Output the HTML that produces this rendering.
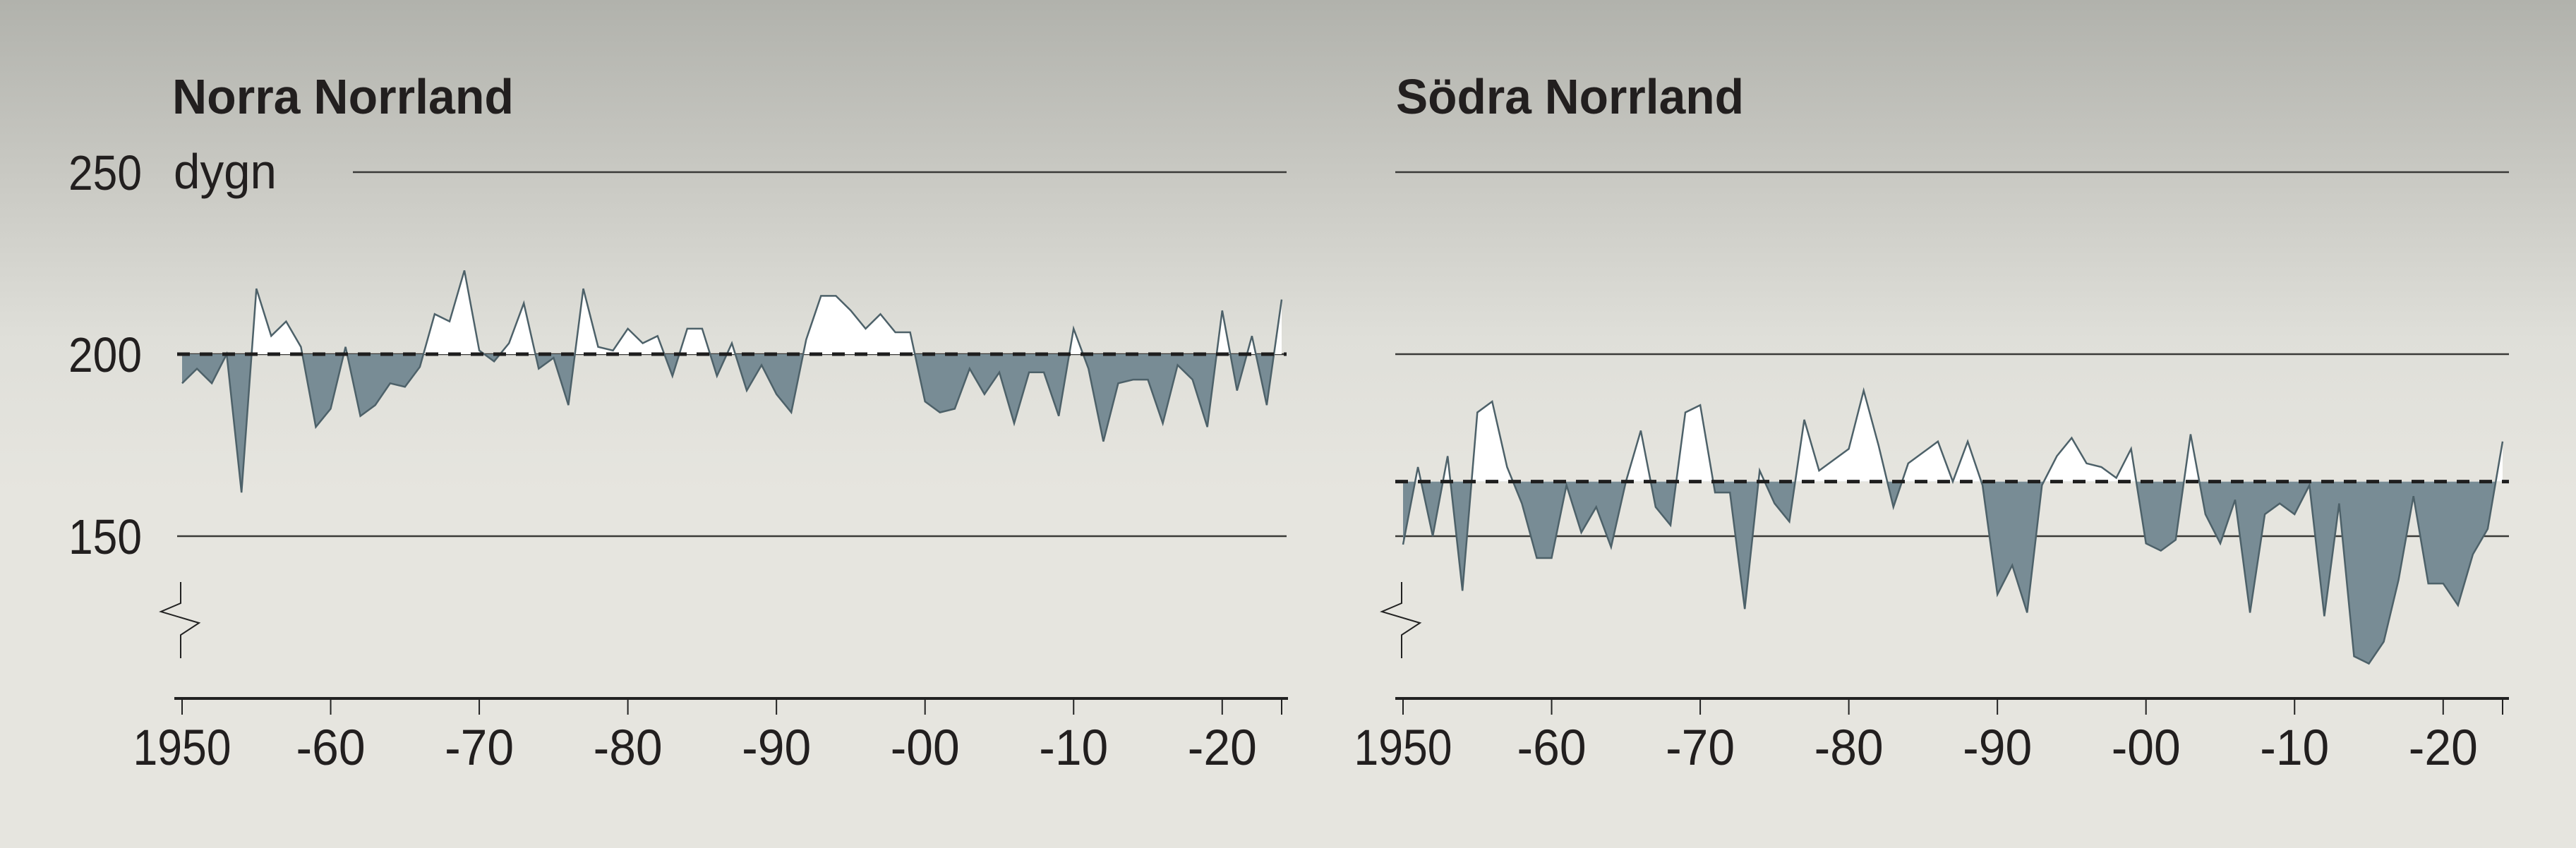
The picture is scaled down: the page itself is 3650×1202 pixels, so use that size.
<!DOCTYPE html>
<html><head><meta charset="utf-8"><style>
html,body{margin:0;padding:0;}
body{width:3650px;height:1202px;overflow:hidden;background:linear-gradient(#b1b2ac 0px,#c9c9c3 250px,#dfdfd9 480px,#e6e5df 700px,#e6e5df 1202px);}
svg{display:block;font-family:"Liberation Sans",sans-serif;}
</style></head><body>
<svg id="chart" width="3650" height="1202" viewBox="0 0 3650 1202" xmlns="http://www.w3.org/2000/svg"></svg>
<script>
const years = []; for (let y = 1950; y <= 2024; y++) years.push(y);
const norraValues = [192,196,192,200,162,218,205,209,202,180,185,202,183,186,192,191,196.5,211,209,223,201,198,203,214,196,199,186,218,202,201,207,203,205,194,207,207,194,203,190,197,189,184,204,216,216,212,207,211,206,206,187,184,185,196,189,195,181,195,195,183,207,196,176,192,193,193,181,197,193,180,212,190,205,186,215];
const sodraValues = [147.7,169,150,172,135,184,187,169,159,144,144,164,151,158,147,165,179,158,153,184,186,162,162,130,168,159,154,182,168,171,174,190,175,158,170,173,176,165,176,164,134,142,129,164,172,177,170,169,166,174,148,146,149,178,156,148,160,129,156,159,156,164,128,159,117,115,121,138,161,137,137,131,145,152,176];
const norraMean = 200;
const sodraMean = 165;
const yTickValues = [150,200,250];
const xTickYears = [1950,1960,1970,1980,1990,2000,2010,2020,2024];
const xTickLabels = ["1950","-60","-70","-80","-90","-00","-10","-20",""];

const NS = "http://www.w3.org/2000/svg";
const svg = document.getElementById('chart');
function el(tag, attrs, parent) {
  const e = document.createElementNS(NS, tag);
  for (const k in attrs) e.setAttribute(k, attrs[k]);
  (parent || svg).appendChild(e);
  return e;
}
function yScale(v) { return 502 + (200 - v) * (258 / 50); }

function drawPanel(id, title, values, mean, x0, x1, gridStart, gridEnd, axisStart, axisEnd, showYLabels, titleX, titleW) {
  const g = el('g', {});
  
  
  const xScale = yr => x0 + (yr - 1950) * (x1 - x0) / 74;

  const t = el('text', {x: titleX, y: 161, 'font-size': 70, 'font-weight': 'bold', fill: '#221f1f', textLength: titleW, lengthAdjust: 'spacingAndGlyphs'}, g);
  t.textContent = title;
  
  

  yTickValues.forEach(v => {
    const ly = yScale(v);
    let sx = gridStart;
    if (showYLabels && v === 250) sx = 500;
    const gl = el('line', {x1: sx, x2: gridEnd, y1: ly, y2: ly, stroke: '#3a3a38', 'stroke-width': 2.5}, g);
    
    
    if (showYLabels) {
      const lt = el('text', {x: 201, y: ly + 25, 'font-size': 70, fill: '#221f1f', 'text-anchor': 'end', textLength: 104, lengthAdjust: 'spacingAndGlyphs'}, g);
      lt.textContent = String(v);
      
      
    }
  });
  if (showYLabels) {
    const u = el('text', {x: 246, y: 267, 'font-size': 70, fill: '#221f1f', textLength: 146, lengthAdjust: 'spacingAndGlyphs'}, g);
    u.textContent = 'dygn';
    
    
  }

  const my = yScale(mean);
  let pts = values.map((v, i) => xScale(years[i]).toFixed(1) + ',' + yScale(v).toFixed(1));
  const areaD = 'M' + xScale(years[0]) + ',' + my + ' L' + pts.join(' L') + ' L' + xScale(years[years.length - 1]) + ',' + my + ' Z';
  const cidA = id + '-above', cidB = id + '-below';
  const defs = el('defs', {}, g);
  const cpA = el('clipPath', {id: cidA}, defs);
  el('rect', {x: 0, y: 0, width: 3650, height: my}, cpA);
  const cpB = el('clipPath', {id: cidB}, defs);
  el('rect', {x: 0, y: my, width: 3650, height: 1202}, cpB);
  const aA = el('path', {d: areaD, fill: '#ffffff', 'clip-path': 'url(#' + cidA + ')'}, g);
  
  
  const aB = el('path', {d: areaD, fill: '#788c95', 'clip-path': 'url(#' + cidB + ')'}, g);
  
  
  const ln = el('polyline', {points: pts.join(' '), fill: 'none', stroke: '#4d6169', 'stroke-width': 2.5, 'stroke-linejoin': 'miter'}, g);
  
  

  const ml = el('line', {x1: gridStart, x2: gridEnd, y1: my, y2: my, stroke: '#1e1e1e', 'stroke-width': 5, 'stroke-dasharray': '18 14'}, g);
  
  

  // axis break (zigzag)
  const bx = x0 - 2;
  const br = el('polyline', {points: `${bx},825 ${bx},855 ${bx - 28},867 ${bx + 26},883 ${bx},900 ${bx},933`, fill: 'none', stroke: '#222', 'stroke-width': 2}, g);
  
  

  const ax = el('line', {x1: axisStart, x2: axisEnd, y1: 990, y2: 990, stroke: '#222', 'stroke-width': 4}, g);
  
  
  xTickYears.forEach((yr, i) => {
    const tx = xScale(yr);
    const tk = el('line', {x1: tx, x2: tx, y1: 990, y2: 1013, stroke: '#222', 'stroke-width': 2}, g);
    
    
    if (xTickLabels[i]) {
      const lab = xTickLabels[i];
      const w = lab.length === 4 ? 139 : 98;
      const tl = el('text', {x: tx, y: 1084, 'font-size': 71, fill: '#221f1f', 'text-anchor': 'middle', textLength: w, lengthAdjust: 'spacingAndGlyphs'}, g);
      tl.textContent = lab;
      
      
    }
  });
}

drawPanel('norra', 'Norra Norrland', norraValues, norraMean, 258, 1816, 251, 1823, 247, 1825, true, 244, 484);
drawPanel('sodra', 'Södra Norrland', sodraValues, sodraMean, 1988, 3546, 1977, 3555, 1977, 3555, false, 1978, 493);
</script>
</body></html>
